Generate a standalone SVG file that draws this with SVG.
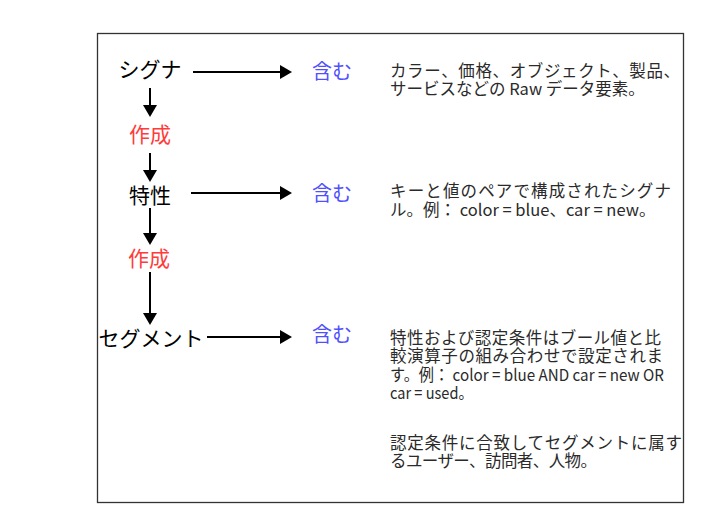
<svg xmlns="http://www.w3.org/2000/svg" width="704" height="523" viewBox="0 0 704 523">
<style>
.lbl{font-family:"Noto Sans CJK JP","Noto Sans",sans-serif;font-size:21px;fill:#000;text-anchor:middle}
.red{fill:#ff3b3b}
.blue{font-family:"Noto Sans CJK JP","Noto Sans",sans-serif;font-size:20px;fill:#5050ff;text-anchor:middle}
.desc{font-family:"Noto Sans CJK JP","Noto Sans",sans-serif;font-size:16.5px;fill:#2a2a2a}
.conn{stroke:#000;stroke-width:2;fill:none}
</style>
<defs>
<marker id="ah" markerUnits="userSpaceOnUse" markerWidth="13" markerHeight="14" refX="0" refY="7" orient="auto">
<path d="M0,0 L12,7 L0,14 Z" fill="#000"/>
</marker>
</defs>
<rect x="97.5" y="33.5" width="586" height="469" fill="#fff" stroke="#333" stroke-width="1.3"/>
<g id="connectors">
<path class="conn" d="M193,72 H280" marker-end="url(#ah)"/>
<path class="conn" d="M191,193 H280" marker-end="url(#ah)"/>
<path class="conn" d="M207,337 H280" marker-end="url(#ah)"/>
<path class="conn" d="M150,88 V105" marker-end="url(#ah)"/>
<path class="conn" d="M150,153 V170" marker-end="url(#ah)"/>
<path class="conn" d="M150,208 V233" marker-end="url(#ah)"/>
<path class="conn" d="M150,272 V313" marker-end="url(#ah)"/>
</g>
<g id="signal"><text class="lbl" x="150" y="77">シグナ</text></g>
<g id="create1"><text class="lbl red" x="150" y="142">作成</text></g>
<g id="trait"><text class="lbl" x="150" y="203">特性</text></g>
<g id="create2"><text class="lbl red" x="149" y="266">作成</text></g>
<g id="segment"><text class="lbl" x="151" y="346">セグメント</text></g>
<g id="contains1"><text class="blue" x="332" y="79">含む</text></g>
<g id="contains2"><text class="blue" x="332" y="201">含む</text></g>
<g id="contains3"><text class="blue" x="332" y="342">含む</text></g>
<g id="desc1">
<text class="desc" x="390" y="77" textLength="290" lengthAdjust="spacing">カラー、価格、オブジェクト、製品、</text>
<text class="desc" x="390" y="95">サービスなどの Raw データ要素。</text>
</g>
<g id="desc2">
<text class="desc" x="390" y="197" textLength="281" lengthAdjust="spacing">キーと値のペアで構成されたシグナ</text>
<text class="desc" x="390" y="216">ル。例： color = blue、car = new。</text>
</g>
<g id="desc3">
<text class="desc" x="390" y="344" textLength="271" lengthAdjust="spacing">特性および認定条件はブール値と比</text>
<text class="desc" x="390" y="362" textLength="273" lengthAdjust="spacing">較演算子の組み合わせで設定されま</text>
<text class="desc" x="390" y="381" textLength="274" lengthAdjust="spacingAndGlyphs">す。例： color = blue AND car = new OR</text>
<text class="desc" x="390" y="399" textLength="83" lengthAdjust="spacingAndGlyphs">car = used。</text>
</g>
<g id="desc4">
<text class="desc" x="390" y="449" textLength="292" lengthAdjust="spacing">認定条件に合致してセグメントに属す</text>
<text class="desc" x="390" y="467" textLength="207" lengthAdjust="spacing">るユーザー、訪問者、人物。</text>
</g>
</svg>
